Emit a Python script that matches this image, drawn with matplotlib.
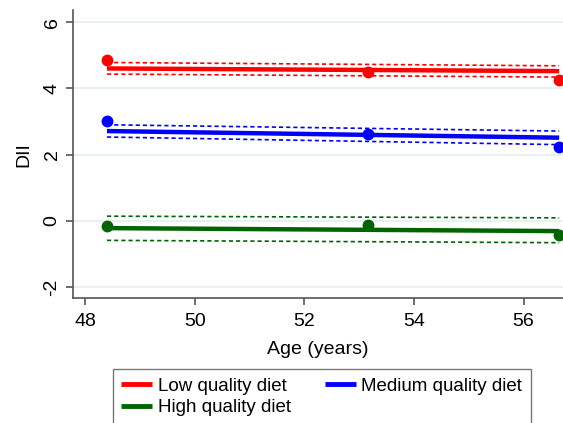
import matplotlib
matplotlib.use("Agg")
import matplotlib.pyplot as plt

plt.rcParams['font.family'] = ['Liberation Sans', 'DejaVu Sans']

# Observed mean points
age_pts = [48.4, 53.17, 56.65]
low_pts = [4.85, 4.49, 4.24]
med_pts = [3.01, 2.61, 2.22]
high_pts = [-0.17, -0.12, -0.44]

# Fitted lines and confidence bounds (start, end)
age_fit = [48.4, 56.65]
low_fit = [4.60, 4.52]
low_hi = [4.78, 4.68]
low_lo = [4.43, 4.34]
med_fit = [2.71, 2.51]
med_hi = [2.90, 2.71]
med_lo = [2.53, 2.30]
high_fit = [-0.22, -0.31]
high_hi = [0.14, 0.09]
high_lo = [-0.59, -0.66]

series = [
    ("Low quality diet", "#ff0000", low_pts, low_fit, low_hi, low_lo),
    ("High quality diet", "#006400", high_pts, high_fit, high_hi, high_lo),
    ("Medium quality diet", "#0000ff", med_pts, med_fit, med_hi, med_lo),
]

xticks = [48, 50, 52, 54, 56]
yticks = [-2, 0, 2, 4, 6]

fig = plt.figure(figsize=(5.63, 4.23), dpi=100)
ax = fig.add_axes([0.1297, 0.2955, 0.8703, 0.6805])

handles = []
for name, col, pts, fit, hi, lo in series:
    h, = ax.plot(age_fit, fit, color=col, lw=3.2, solid_capstyle='butt', label=name, zorder=3)
    ax.plot(age_fit, hi, color=col, lw=1.2, ls=(0, (2.5, 1.8)), zorder=2)
    ax.plot(age_fit, lo, color=col, lw=1.2, ls=(0, (2.5, 1.8)), zorder=2)
    ax.plot(age_pts, pts, 'o', color=col, ms=7.5, zorder=4, clip_on=True)
    handles.append(h)

ax.set_xlim(47.78, 56.72)
ax.set_ylim(-2.33, 6.36)
ax.set_xticks(xticks)
ax.set_yticks(yticks)
ax.set_xticklabels([str(t) for t in xticks], fontsize=14)
ax.set_yticklabels([str(t) for t in yticks], fontsize=14, rotation=90, va='center')
ax.yaxis.grid(True, color='#e3eef0', lw=1.2)
ax.set_axisbelow(True)
for s in ['top', 'right']:
    ax.spines[s].set_visible(False)
for s in ['left', 'bottom']:
    ax.spines[s].set_color('#555555')
    ax.spines[s].set_linewidth(1.2)
ax.tick_params(colors='#555555', length=5, width=1.2, labelcolor='black', pad=4)
ax.tick_params(axis='x', pad=6)
ax.set_xlabel("Age (years)", fontsize=14, labelpad=8)
ax.set_ylabel("DII", fontsize=14, labelpad=8)

leg = fig.legend(handles=handles, labels=[s[0] for s in series], ncol=2,
                 loc='upper left', bbox_to_anchor=(113/563, 1 - 369/423),
                 fontsize=13.5, frameon=True, fancybox=False, edgecolor='#555555',
                 handlelength=1.65, handletextpad=0.3, columnspacing=1.8,
                 labelspacing=0.25, borderpad=0.45, borderaxespad=0)
leg.get_frame().set_linewidth(1.0)
for lh in leg.get_lines():
    lh.set_linewidth(3.5)

fig.savefig("out.png", dpi=100)
